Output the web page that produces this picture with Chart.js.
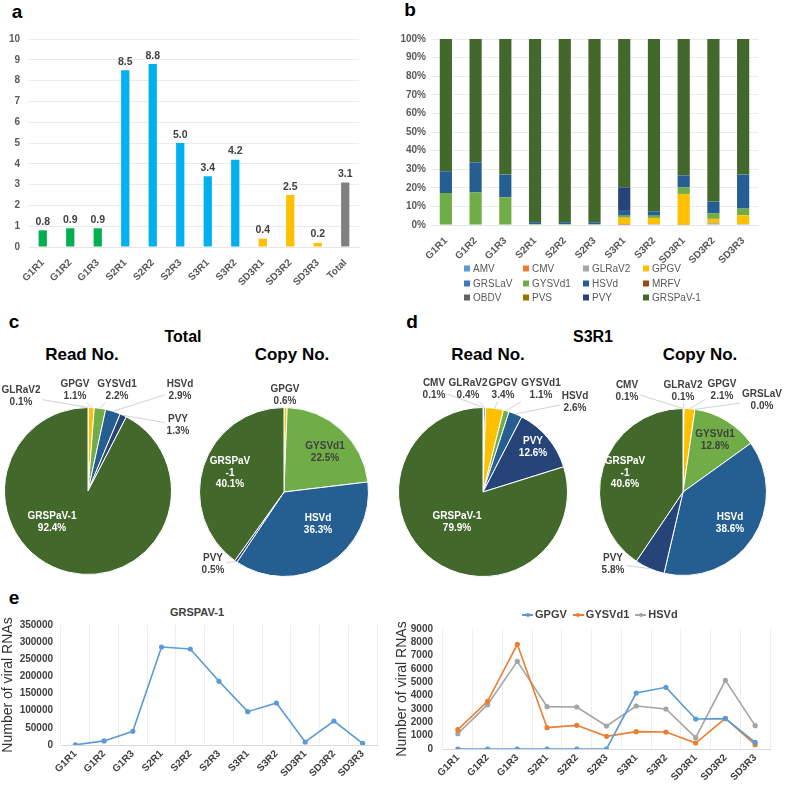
<!DOCTYPE html>
<html>
<head>
<meta charset="utf-8">
<script src="https://cdn.jsdelivr.net/npm/chart.js@4.4.0/dist/chart.umd.min.js"></script>
<style>
body { margin: 0; background: #fff; font-family: "Liberation Sans", Arial, sans-serif; }
#wrap { position: relative; width: 787px; height: 787px; overflow: hidden; }
canvas { position: absolute; }
.t { position: absolute; font-weight: bold; color: #000; white-space: nowrap; transform: translate(-50%, -50%); }
.lg { position: absolute; font-size: 10px; color: #595959; white-space: nowrap; transform: translateY(-50%); }
.lg i { display: inline-block; width: 6px; height: 6px; margin-right: 3px; vertical-align: -0px; }
#legE { position: absolute; left: 519px; top: 608px; font-size: 11px; font-weight: bold; color: #404040; white-space: nowrap; }
#legE span.k { display: inline-block; width: 11px; height: 2px; position: relative; vertical-align: middle; margin: 0 2px 0 3px; }
#legE span.k b { position: absolute; left: 3.5px; top: -1px; width: 4px; height: 4px; border-radius: 2px; background: inherit; }
</style>
</head>
<body>
<div id="wrap">
  <div class="t" style="left:17px;top:12px;font-size:19px">a</div>
  <div class="t" style="left:410px;top:10px;font-size:19px">b</div>
  <div class="t" style="left:14px;top:322px;font-size:19px">c</div>
  <div class="t" style="left:412px;top:322px;font-size:19px">d</div>
  <div class="t" style="left:14px;top:598px;font-size:19px">e</div>

  <div class="t" style="left:183px;top:337px;font-size:16px">Total</div>
  <div class="t" style="left:82px;top:355px;font-size:17px">Read No.</div>
  <div class="t" style="left:292px;top:355px;font-size:17px">Copy No.</div>
  <div class="t" style="left:593px;top:337px;font-size:16px">S3R1</div>
  <div class="t" style="left:488px;top:355px;font-size:17px">Read No.</div>
  <div class="t" style="left:700px;top:355px;font-size:17px">Copy No.</div>
  <div class="t" style="left:197px;top:612px;font-size:11px;color:#404040">GRSPAV-1</div>

  <canvas id="ca" style="left:0;top:20px" width="375" height="275"></canvas>
  <canvas id="cb" style="left:385px;top:20px" width="402" height="245"></canvas>
  <div id="legB"></div>
  <canvas id="pc1"></canvas>
  <canvas id="pc2"></canvas>
  <canvas id="pd1"></canvas>
  <canvas id="pd2"></canvas>
  <canvas id="ce1" style="left:0;top:600px" width="390" height="187"></canvas>
  <canvas id="ce2" style="left:390px;top:600px" width="397" height="187"></canvas>
  <div id="legE"></div>
</div>
<script>
// ---- data ----
const samples = ['G1R1', 'G1R2', 'G1R3', 'S2R1', 'S2R2', 'S2R3', 'S3R1', 'S3R2', 'SD3R1', 'SD3R2', 'SD3R3'];
const samplesA = ['G1R1', 'G1R2', 'G1R3', 'S2R1', 'S2R2', 'S2R3', 'S3R1', 'S3R2', 'SD3R1', 'SD3R2', 'SD3R3', 'Total'];
const abundance = [0.8, 0.9, 0.9, 8.5, 8.8, 5.0, 3.4, 4.2, 0.4, 2.5, 0.2, 3.1];

const viruses = ['AMV', 'CMV', 'GLRaV2', 'GPGV', 'GRSLaV', 'GYSVd1', 'HSVd', 'MRFV', 'OBDV', 'PVS', 'PVY', 'GRSPaV-1'];
const pctAMV    = [0, 0, 0, 0, 0, 0, 0, 0, 0, 0, 0];
const pctCMV    = [0, 0, 0, 0, 0, 0, 0.1, 0, 0, 0, 0];
const pctGLRaV2 = [0, 0, 0, 0, 0, 0, 0.4, 0.5, 0.1, 1.0, 0.5];
const pctGPGV   = [0, 0, 0, 0, 0, 0, 3.4, 3.3, 16.6, 2.3, 4.7];
const pctGRSLaV = [0, 0, 0, 0, 0, 0, 0, 0, 0, 0, 0];
const pctGYSVd1 = [17.2, 17.5, 14.9, 0.5, 0.5, 0.4, 1.1, 1.2, 3.5, 2.9, 3.6];
const pctHSVd   = [11.7, 16.2, 12.2, 1.0, 1.0, 1.0, 2.6, 2.3, 6.5, 6.4, 18.3];
const pctMRFV   = [0, 0, 0, 0, 0, 0, 0, 0, 0, 0, 0];
const pctOBDV   = [0, 0, 0, 0, 0, 0, 0, 0, 0, 0, 0];
const pctPVS    = [0, 0, 0, 0, 0, 0, 0, 0, 0, 0, 0];
const pctPVY    = [0, 0, 0, 0, 0, 0, 12.6, 0, 0, 0, 0];
const pctGRSPaV = [71.1, 66.3, 72.9, 98.5, 98.5, 98.6, 79.8, 92.7, 73.3, 87.4, 72.9];

const totalReadNames = ['GLRaV2', 'GPGV', 'GYSVd1', 'HSVd', 'PVY', 'GRSPaV-1'];
const totalReadPct   = [0.1, 1.1, 2.2, 2.9, 1.3, 92.4];
const totalCopyNames = ['GPGV', 'GYSVd1', 'HSVd', 'PVY', 'GRSPaV-1'];
const totalCopyPct   = [0.6, 22.5, 36.3, 0.5, 40.1];
const s3r1ReadNames  = ['CMV', 'GLRaV2', 'GPGV', 'GYSVd1', 'HSVd', 'PVY', 'GRSPaV-1'];
const s3r1ReadPct    = [0.1, 0.4, 3.4, 1.1, 2.6, 12.6, 79.9];
const s3r1CopyNames  = ['CMV', 'GLRaV2', 'GPGV', 'GRSLaV', 'GYSVd1', 'HSVd', 'PVY', 'GRSPaV-1'];
const s3r1CopyPct    = [0.1, 0.1, 2.1, 0.0, 12.8, 38.6, 5.8, 40.6];

const grspavCopies = [500, 12000, 40000, 285800, 280000, 185700, 97200, 122500, 8800, 70000, 4900];
const gpgvCopies   = [0, 0, 0, 0, 0, 0, 4200, 4625, 2250, 2275, 500];
const gysvd1Copies = [1450, 3575, 7850, 1600, 1775, 950, 1300, 1275, 450, 2300, 325];
const hsvdCopies   = [1150, 3325, 6575, 3175, 3150, 1725, 3225, 3000, 850, 5150, 1750];

// ---- styles ----
const virusColor = {
  'AMV': '#5B9BD5', 'CMV': '#ED7D31', 'GLRaV2': '#A5A5A5', 'GPGV': '#FFC000',
  'GRSLaV': '#4472C4', 'GYSVd1': '#70AD47', 'HSVd': '#255E91', 'MRFV': '#9E480E',
  'OBDV': '#636363', 'PVS': '#997300', 'PVY': '#264478', 'GRSPaV-1': '#43682B'
};
const groupColor = s => s === 'Total' ? '#808080' : s.startsWith('G1') ? '#00B050' : s.startsWith('SD') ? '#FFC000' : '#00B0F0';

const FONT = '"Liberation Sans", Arial, sans-serif';
Chart.defaults.font.family = FONT;
Chart.defaults.color = '#595959';
Chart.defaults.animation = false;
Chart.defaults.plugins.legend.display = false;
Chart.defaults.plugins.tooltip.enabled = false;

const tickFont = { size: 10, weight: 'bold' };

const valueLabels = {
  id: 'valueLabels',
  afterDatasetsDraw(chart) {
    const ctx = chart.ctx;
    const ds = chart.data.datasets[0];
    ctx.save();
    ctx.font = 'bold 10.5px ' + FONT;
    ctx.fillStyle = '#404040';
    ctx.textAlign = 'center';
    ctx.textBaseline = 'bottom';
    chart.getDatasetMeta(0).data.forEach((bar, i) => {
      ctx.fillText(ds.data[i].toFixed(1), bar.x, bar.y - 3);
    });
    ctx.restore();
  }
};

// panel a
new Chart(document.getElementById('ca'), {
  type: 'bar',
  data: {
    labels: samplesA,
    datasets: [{ data: abundance, backgroundColor: samplesA.map(groupColor), barPercentage: 0.3, categoryPercentage: 1 }]
  },
  options: {
    responsive: false,
    layout: { padding: { left: 0, right: 16, top: 19, bottom: 0 } },
    scales: {
      x: {
        grid: { display: false }, border: { color: '#E6E6E6' },
        ticks: { font: tickFont, minRotation: 45, maxRotation: 45, padding: 2, autoSkip: false },
        afterFit: s => { s.height = 48; }
      },
      y: {
        min: 0, max: 10,
        ticks: { stepSize: 1, font: tickFont, padding: 9 },
        grid: { color: '#EBEBEB', drawTicks: false }, border: { display: false },
        afterFit: s => { s.width = 29; }
      }
    }
  },
  plugins: [valueLabels]
});

// panel b
const pctByVirus = [pctAMV, pctCMV, pctGLRaV2, pctGPGV, pctGRSLaV, pctGYSVd1, pctHSVd, pctMRFV, pctOBDV, pctPVS, pctPVY, pctGRSPaV];
new Chart(document.getElementById('cb'), {
  type: 'bar',
  data: {
    labels: samples,
    datasets: viruses.map((v, k) => ({
      label: v, data: pctByVirus[k], backgroundColor: virusColor[v], barPercentage: 0.41, categoryPercentage: 1
    }))
  },
  options: {
    responsive: false,
    layout: { padding: { left: 0, right: 29, top: 19, bottom: 0 } },
    scales: {
      x: {
        stacked: true, grid: { display: false }, border: { color: '#E6E6E6' },
        ticks: { font: tickFont, minRotation: 45, maxRotation: 45, padding: 2, autoSkip: false },
        afterFit: s => { s.height = 40; }
      },
      y: {
        stacked: true, min: 0, max: 100,
        ticks: { stepSize: 10, font: tickFont, padding: 5, callback: v => v + '%' },
        grid: { color: '#EBEBEB', drawTicks: false }, border: { display: false },
        afterFit: s => { s.width = 46; }
      }
    }
  }
});

// legend b (4 columns x 3 rows)
const legB = document.getElementById('legB');
const legCols = [464, 523, 583, 643], legRows = [268, 283, 297];
viruses.forEach((v, k) => {
  const d = document.createElement('div');
  d.className = 'lg';
  d.style.left = legCols[k % 4] + 'px';
  d.style.top = legRows[Math.floor(k / 4)] + 'px';
  d.innerHTML = '<i style="background:' + virusColor[v] + '"></i>' + v;
  legB.appendChild(d);
});

// pies
const pieLabels = {
  id: 'pieLabels',
  afterDatasetsDraw(chart, args, opts) {
    const ctx = chart.ctx;
    const vals = chart.data.datasets[0].data;
    ctx.save();
    ctx.font = 'bold 10px ' + FONT;
    ctx.textAlign = 'center';
    ctx.textBaseline = 'middle';
    const lh = 11.5;
    chart.getDatasetMeta(0).data.forEach((arc, i) => {
      const p = opts.pos[i];
      const lines = opts.names[i].split('\n').concat([vals[i].toFixed(1) + '%']);
      const cx = arc.x + p[0], cy = arc.y + p[1];
      const w = Math.max(...lines.map(l => ctx.measureText(l).width));
      const h = lines.length * lh;
      if (p[2] === 'out') {
        const mid = (arc.startAngle + arc.endAngle) / 2;
        const ex = arc.x + Math.cos(mid) * arc.outerRadius, ey = arc.y + Math.sin(mid) * arc.outerRadius;
        const dx = ex - cx, dy = ey - cy;
        const s = Math.min((w / 2 + 2) / Math.abs(dx || 1e-6), (h / 2 + 1) / Math.abs(dy || 1e-6));
        if (s < 1) {
          ctx.strokeStyle = '#C8C8C8';
          ctx.lineWidth = 0.8;
          ctx.beginPath();
          ctx.moveTo(ex, ey);
          ctx.lineTo(cx + dx * s, cy + dy * s);
          ctx.stroke();
        }
      }
      ctx.fillStyle = p[3] || '#404040';
      lines.forEach((l, k) => ctx.fillText(l, cx, cy - h / 2 + lh / 2 + k * lh));
    });
    ctx.restore();
  }
};

function makePie(id, names, values, shown, pos, cx, cy, r, box) {
  const cv = document.getElementById(id);
  cv.width = box[2]; cv.height = box[3];
  cv.style.left = box[0] + 'px'; cv.style.top = box[1] + 'px';
  new Chart(cv, {
    type: 'pie',
    data: {
      labels: names,
      datasets: [{ data: values, backgroundColor: names.map(n => virusColor[n]), borderColor: '#fff', borderWidth: 1 }]
    },
    options: {
      responsive: false,
      layout: { padding: {
        left: cx - r - box[0], top: cy - r - box[1],
        right: box[0] + box[2] - cx - r, bottom: box[1] + box[3] - cy - r
      } },
      plugins: { pieLabels: { names: shown, pos: pos } }
    },
    plugins: [pieLabels]
  });
}

const W = '#FFFFFF';
makePie('pc1', totalReadNames, totalReadPct,
  ['GLRaV2', 'GPGV', 'GYSVd1', 'HSVd', 'PVY', 'GRSPaV-1'],
  [[-67, -95, 'out'], [-13, -101, 'out'], [29, -101, 'out'], [92, -101, 'out'], [90, -66, 'out'], [-36, 31, 'in', W]],
  88, 491, 84, [0, 365, 196, 222]);
makePie('pc2', totalCopyNames, totalCopyPct,
  ['GPGV', 'GYSVd1', 'HSVd', 'PVY', 'GRSPaV\n-1'],
  [[1, -97, 'out'], [41, -40, 'in'], [34, 32, 'in', W], [-71, 72, 'out'], [-54, -19, 'in', W]],
  284, 492, 85, [196, 365, 194, 222]);
makePie('pd1', s3r1ReadNames, s3r1ReadPct,
  ['CMV', 'GLRaV2', 'GPGV', 'GYSVd1', 'HSVd', 'PVY', 'GRSPaV-1'],
  [[-49, -103, 'out'], [-15, -103, 'out'], [20, -103, 'out'], [58, -103, 'out'], [92, -90, 'out'], [50, -45, 'in', W], [-26, 30, 'in', W]],
  483, 492, 85, [390, 365, 215, 222]);
makePie('pd2', s3r1CopyNames, s3r1CopyPct,
  ['CMV', 'GLRaV2', 'GPGV', 'GRSLaV', 'GYSVd1', 'HSVd', 'PVY', 'GRSPaV\n-1'],
  [[-56, -101, 'out'], [0, -101, 'out'], [39, -102, 'out'], [79, -92, 'out'], [32, -52, 'in'], [47, 31, 'in', W], [-70, 72, 'out'], [-58, -19, 'in', W]],
  683, 492, 84, [585, 365, 202, 222]);

// panel e
function lineScales(max, step, yw, xh, tpad) {
  return {
    x: {
      offset: true,
      grid: { offset: true, color: '#EEEEEE', drawTicks: false }, border: { color: '#D9D9D9' },
      ticks: { font: tickFont, color: '#404040', minRotation: 45, maxRotation: 45, padding: 3, autoSkip: false },
      afterFit: s => { s.height = xh; }
    },
    y: {
      min: 0, max: max,
      ticks: { stepSize: step, font: tickFont, color: '#404040', padding: tpad, autoSkip: false, callback: v => String(v) },
      grid: { display: false, drawTicks: false }, border: { display: false },
      title: { display: true, text: 'Number of viral RNAs', color: '#333', font: { size: 14 }, padding: 0 },
      afterFit: s => { s.width = yw; }
    }
  };
}
const lineDs = (label, data, color) => ({
  label, data, borderColor: color, backgroundColor: color, borderWidth: 1.6,
  pointRadius: 1.8, pointStyle: 'circle', tension: 0
});

new Chart(document.getElementById('ce1'), {
  type: 'line',
  data: { labels: samples, datasets: [lineDs('GRSPaV-1', grspavCopies, '#5B9BD5')] },
  options: {
    responsive: false,
    layout: { padding: { left: 0, right: 13, top: 25, bottom: 0 } },
    scales: lineScales(350000, 50000, 61, 42, 8)
  }
});

const lineSeries = [['GPGV', gpgvCopies, '#5B9BD5'], ['GYSVd1', gysvd1Copies, '#ED7D31'], ['HSVd', hsvdCopies, '#A5A5A5']];
new Chart(document.getElementById('ce2'), {
  type: 'line',
  data: { labels: samples, datasets: lineSeries.map(s => lineDs(s[0], s[1], s[2])) },
  options: {
    responsive: false,
    layout: { padding: { left: 4, right: 17, top: 29, bottom: 0 } },
    scales: lineScales(9000, 1000, 49, 38, 10)
  }
});

const legE = document.getElementById('legE');
legE.innerHTML = lineSeries.map(s =>
  '<span class="k" style="background:' + s[2] + '"><b></b></span>' + s[0]).join(' ');
</script>
</body>
</html>
